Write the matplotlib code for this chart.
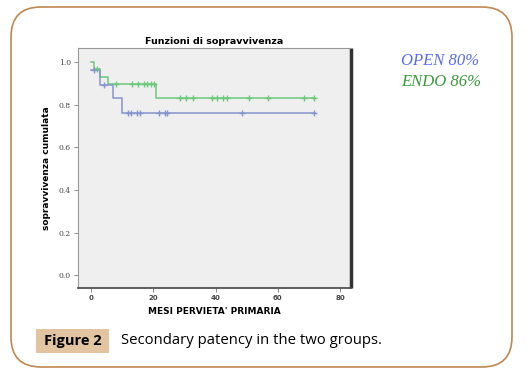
import numpy as np
import matplotlib
matplotlib.use("Agg")
import matplotlib.pyplot as plt
from matplotlib.patches import FancyBboxPatch, Rectangle
from matplotlib.transforms import IdentityTransform

# Kaplan-Meier steps (time in months, cumulative survival)
endo_t = [0, 1, 3, 5.4, 21, 72]
endo_s = [1.0, 0.967, 0.93, 0.896, 0.83, 0.83]
open_t = [0, 3, 7, 10, 72]
open_s = [0.96, 0.89, 0.83, 0.758, 0.758]

# censored observations
endo_cens = [1.8, 8, 13, 15, 17, 18, 19.2, 20.3, 28.7, 30.5, 32.7, 38.8,
             40.5, 42.5, 43.8, 50.8, 56.7, 68.5, 71.5]
open_cens = [1, 4, 12, 12.8, 14.7, 15.6, 21.7, 23.6, 24.5, 48.6, 71.5]

xticks = [0, 20, 40, 60, 80]
yticks = [0.0, 0.2, 0.4, 0.6, 0.8, 1.0]

green = "#6cc87a"
blue = "#8494cc"


def surv_at(ts, ss, t):
    idx = np.searchsorted(ts, t, side="right") - 1
    return ss[idx]


fig = plt.figure(figsize=(5.32, 3.77), dpi=100)
fig.patch.set_facecolor("white")

# rounded outer frame (pixel coordinates)
frame = FancyBboxPatch((11, 10), 501, 360,
                       boxstyle="round,pad=0,rounding_size=30",
                       transform=IdentityTransform(), facecolor="none",
                       edgecolor="#c08850", linewidth=1.2)
fig.add_artist(frame)

ax = fig.add_axes([78 / 532, 1 - 288 / 377, 273 / 532, 240 / 377])
ax.set_facecolor("#efefef")
ax.set_xlim(-4.2, 83.5)
ax.set_ylim(-0.06, 1.065)

ax.step(endo_t, endo_s, where="post", color=green, lw=1.1)
ax.step(open_t, open_s, where="post", color=blue, lw=1.1)
ax.plot(endo_cens, [surv_at(endo_t, endo_s, t) for t in endo_cens], "+",
        color=green, ms=4, mew=1.0)
ax.plot(open_cens, [surv_at(open_t, open_s, t) for t in open_cens], "+",
        color=blue, ms=4, mew=1.0)

ax.set_xticks(xticks)
ax.set_xticklabels([str(v) for v in xticks], fontsize=5, fontweight="bold",
                   color="#444444")
ax.set_yticks(yticks)
ax.set_yticklabels(["%.1f" % v for v in yticks], fontsize=5.5,
                   family="DejaVu Serif", color="#444444")
ax.tick_params(length=3, width=0.6, color="#777777", pad=2)

for s in ["top", "left"]:
    ax.spines[s].set_color("#999999")
    ax.spines[s].set_linewidth(0.8)
ax.spines["right"].set_color("#333333")
ax.spines["right"].set_linewidth(2.5)
ax.spines["right"].set_capstyle("butt")
ax.spines["bottom"].set_color("#444444")
ax.spines["bottom"].set_linewidth(1.2)

ax.set_title("Funzioni di sopravvivenza", fontsize=6.8, fontweight="bold",
             pad=3)
ax.set_xlabel("MESI PERVIETA' PRIMARIA", fontsize=6.5, fontweight="bold",
              labelpad=4)
ax.set_ylabel("sopravvivenza cumulata", fontsize=6.5, fontweight="bold",
              labelpad=6)

fig.text(401 / 532, 1 - 61 / 377, "OPEN 80%", fontsize=12,
         family="Liberation Serif", style="italic", color="#5a6cf0",
         va="center", ha="left")
fig.text(401 / 532, 1 - 82 / 377, "ENDO 86%", fontsize=12,
         family="Liberation Serif", style="italic", color="#3a9a3a",
         va="center", ha="left")

# caption
fig.add_artist(Rectangle((36 / 532, 1 - 353 / 377), 73 / 532, 24 / 377,
                         transform=fig.transFigure, facecolor="#e2c4a0",
                         edgecolor="none"))
fig.text(72.5 / 532, 1 - 341 / 377, "Figure 2", fontsize=10.5,
         fontweight="bold", family="Open Sans", ha="center", va="center")
fig.text(121 / 532, 1 - 341 / 377, "Secondary patency in the two groups.",
         fontsize=10.7, family="Open Sans", ha="left", va="center")

fig.savefig("out.png", dpi=100)
